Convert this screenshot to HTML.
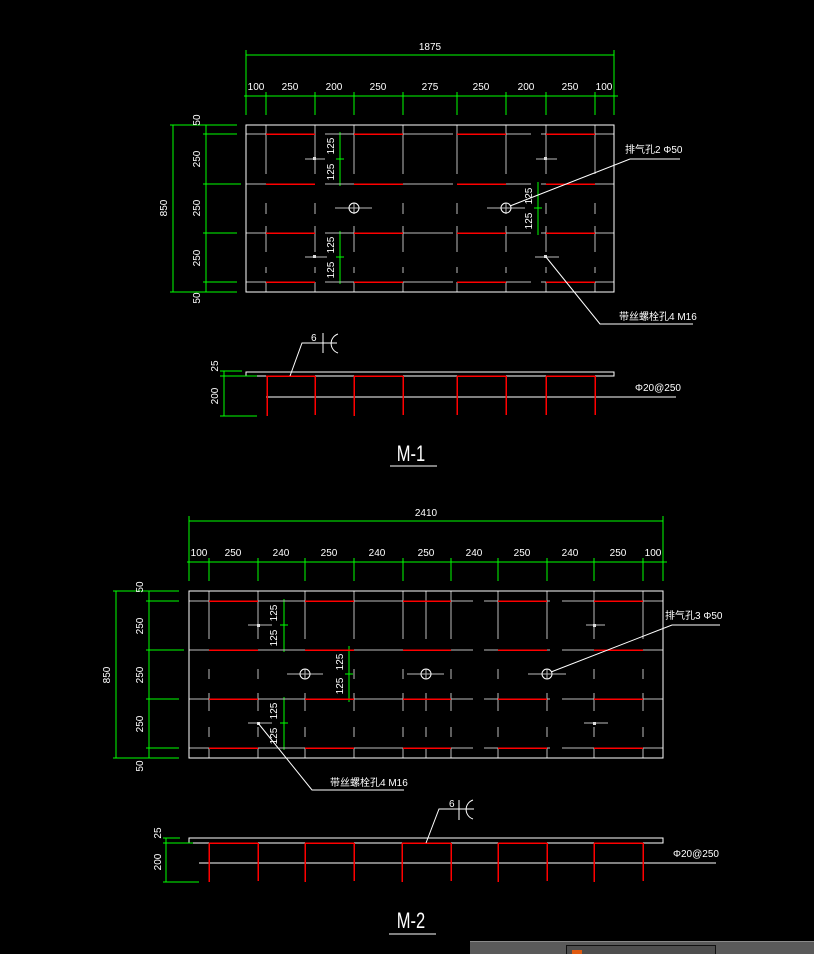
<!DOCTYPE html>
<html><head><meta charset="utf-8"><style>
html,body{margin:0;padding:0;background:#000;width:814px;height:954px;overflow:hidden}
svg{display:block}
text{font-family:"Liberation Sans Narrow","Liberation Sans","Noto Sans CJK SC",sans-serif;fill:#fff;font-size:10px}
.g{stroke:#00ff00;stroke-width:1;fill:none}
.w{stroke:#fff;stroke-width:1;fill:none}
.gr{stroke:#bdbdbd;stroke-width:1;fill:none}
.r{stroke:#ff0000;stroke-width:1.5;fill:none}
path,line,rect{shape-rendering:crispEdges}
.aa{shape-rendering:auto}
</style></head><body>
<svg width="814" height="954" viewBox="0 0 814 954" xmlns="http://www.w3.org/2000/svg">
<!-- ================= M-1 PLAN ================= -->
<g class="g">
<line x1="246" y1="55" x2="614" y2="55"/>
<line x1="246" y1="50" x2="246" y2="115"/><line x1="614" y1="50" x2="614" y2="115"/>
<line x1="244" y1="96" x2="618" y2="96"/>
<line x1="266" y1="92" x2="266" y2="115"/><line x1="315" y1="92" x2="315" y2="115"/><line x1="354" y1="92" x2="354" y2="115"/><line x1="403" y1="92" x2="403" y2="115"/><line x1="457" y1="92" x2="457" y2="115"/><line x1="506" y1="92" x2="506" y2="115"/><line x1="546" y1="92" x2="546" y2="115"/><line x1="595" y1="92" x2="595" y2="115"/>
<line x1="173" y1="125" x2="173" y2="292"/><line x1="206" y1="125" x2="206" y2="292"/>
<line x1="170" y1="125" x2="237" y2="125"/><line x1="203" y1="134" x2="237" y2="134"/><line x1="203" y1="184" x2="241" y2="184"/><line x1="203" y1="233" x2="237" y2="233"/><line x1="203" y1="282" x2="237" y2="282"/><line x1="170" y1="292" x2="237" y2="292"/>
<line x1="340" y1="132" x2="340" y2="186"/><line x1="340" y1="231" x2="340" y2="284"/><line x1="538" y1="182" x2="538" y2="235"/>
<line x1="336" y1="159" x2="344" y2="159"/><line x1="336" y1="257" x2="344" y2="257"/><line x1="534" y1="208" x2="542" y2="208"/>
</g>
<text x="430" y="50" text-anchor="middle">1875</text>
<text x="256" y="90" text-anchor="middle">100</text><text x="290" y="90" text-anchor="middle">250</text><text x="334" y="90" text-anchor="middle">200</text><text x="378" y="90" text-anchor="middle">250</text><text x="430" y="90" text-anchor="middle">275</text><text x="481" y="90" text-anchor="middle">250</text><text x="526" y="90" text-anchor="middle">200</text><text x="570" y="90" text-anchor="middle">250</text><text x="604" y="90" text-anchor="middle">100</text>
<text transform="translate(167,208) rotate(-90)" text-anchor="middle">850</text>
<text transform="translate(200,120) rotate(-90)" text-anchor="middle">50</text>
<text transform="translate(200,159) rotate(-90)" text-anchor="middle">250</text>
<text transform="translate(200,208) rotate(-90)" text-anchor="middle">250</text>
<text transform="translate(200,258) rotate(-90)" text-anchor="middle">250</text>
<text transform="translate(200,298) rotate(-90)" text-anchor="middle">50</text>
<text transform="translate(334,146) rotate(-90)" text-anchor="middle">125</text>
<text transform="translate(334,172) rotate(-90)" text-anchor="middle">125</text>
<text transform="translate(334,245) rotate(-90)" text-anchor="middle">125</text>
<text transform="translate(334,270) rotate(-90)" text-anchor="middle">125</text>
<text transform="translate(532,196) rotate(-90)" text-anchor="middle">125</text>
<text transform="translate(532,221) rotate(-90)" text-anchor="middle">125</text>
<g class="gr">
<path d="M246 134H314M325 134H453M459 134H531M541 134H614"/>
<path d="M246 184H314M325 184H453M459 184H531M541 184H614"/>
<path d="M246 233H314M325 233H453M459 233H531M541 233H614"/>
<path d="M246 282H314M325 282H453M459 282H531M541 282H614"/>
<g stroke-dasharray="49 29 11 12 26 15 6 9 12">
<line x1="266" y1="125" x2="266" y2="292"/><line x1="315" y1="125" x2="315" y2="292"/><line x1="354" y1="125" x2="354" y2="292"/><line x1="403" y1="125" x2="403" y2="292"/><line x1="457" y1="125" x2="457" y2="292"/><line x1="506" y1="125" x2="506" y2="292"/><line x1="546" y1="125" x2="546" y2="292"/><line x1="595" y1="125" x2="595" y2="292"/>
</g>
<path d="M305 159H325M536 159H557M305 257H327M535 257H559M335 208H372M487 208H525"/>
</g>
<g class="r">
<path d="M266 134H315M354 134H403M457 134H506M546 134H595"/>
<path d="M266 184H315M354 184H403M457 184H506M546 184H595"/>
<path d="M266 233H315M354 233H403M457 233H506M546 233H595"/>
<path d="M266 282H315M354 282H403M457 282H506M546 282H595"/>
</g>
<rect class="w" x="246" y="125" width="368" height="167"/>
<circle class="w aa" cx="354" cy="208" r="5"/><circle class="w aa" cx="506" cy="208" r="5"/>
<g fill="#ddd"><rect x="313" y="157" width="3" height="3"/><rect x="544" y="157" width="3" height="3"/><rect x="313" y="255" width="3" height="3"/><rect x="544" y="255" width="3" height="3"/></g>
<path class="w aa" d="M510 206L630 159H680M546 257L600 324H693"/>
<text x="625" y="153" font-size="9">排气孔2 Φ50</text>
<text x="619" y="320" font-size="9">带丝螺栓孔4 M16</text>
<!-- M-1 section -->
<rect class="w" x="246" y="372" width="368" height="4"/>
<path class="w" d="M266 397H676"/>
<path class="r" d="M266 376H315M354 376H403M457 376H506M546 376H595M267 376V416M315 376V415M354 376V416M403 376V415M457 376V415M506 376V415M546 376V415M595 376V415"/>
<g class="g"><line x1="224" y1="371" x2="224" y2="416"/><line x1="220" y1="371" x2="242" y2="371"/><line x1="220" y1="376" x2="257" y2="376"/><line x1="220" y1="416" x2="257" y2="416"/></g>
<text transform="translate(218,366) rotate(-90)" text-anchor="middle">25</text>
<text transform="translate(218,396) rotate(-90)" text-anchor="middle">200</text>
<text x="635" y="391" font-size="9">Φ20@250</text>
<path class="w aa" d="M290 376L302 343H337M323 333V353"/>
<path class="w aa" d="M338 334A10 10 0 0 0 338 353"/>
<text x="311" y="341" font-size="10">6</text>
<text transform="translate(411,461) scale(0.75,1)" text-anchor="middle" style="font-size:22px">M-1</text>
<line class="w" x1="390" y1="466" x2="437" y2="466"/>
<!-- ================= M-2 PLAN ================= -->
<g class="g">
<line x1="189" y1="521" x2="663" y2="521"/>
<line x1="189" y1="516" x2="189" y2="581"/><line x1="663" y1="516" x2="663" y2="581"/>
<line x1="187" y1="562" x2="667" y2="562"/>
<line x1="209" y1="558" x2="209" y2="581"/><line x1="258" y1="558" x2="258" y2="581"/><line x1="305" y1="558" x2="305" y2="581"/><line x1="354" y1="558" x2="354" y2="581"/><line x1="403" y1="558" x2="403" y2="581"/><line x1="451" y1="558" x2="451" y2="581"/><line x1="498" y1="558" x2="498" y2="581"/><line x1="547" y1="558" x2="547" y2="581"/><line x1="594" y1="558" x2="594" y2="581"/><line x1="643" y1="558" x2="643" y2="581"/>
<line x1="116" y1="591" x2="116" y2="758"/><line x1="149" y1="591" x2="149" y2="758"/>
<line x1="113" y1="591" x2="179" y2="591"/><line x1="146" y1="601" x2="179" y2="601"/><line x1="146" y1="650" x2="184" y2="650"/><line x1="146" y1="699" x2="179" y2="699"/><line x1="146" y1="748" x2="179" y2="748"/><line x1="113" y1="758" x2="179" y2="758"/>
<line x1="284" y1="599" x2="284" y2="652"/><line x1="284" y1="697" x2="284" y2="750"/><line x1="349" y1="646" x2="349" y2="702"/>
<line x1="280" y1="625" x2="288" y2="625"/><line x1="280" y1="723" x2="288" y2="723"/><line x1="345" y1="674" x2="353" y2="674"/>
</g>
<text x="426" y="516" text-anchor="middle">2410</text>
<text x="199" y="556" text-anchor="middle">100</text><text x="233" y="556" text-anchor="middle">250</text><text x="281" y="556" text-anchor="middle">240</text><text x="329" y="556" text-anchor="middle">250</text><text x="377" y="556" text-anchor="middle">240</text><text x="426" y="556" text-anchor="middle">250</text><text x="474" y="556" text-anchor="middle">240</text><text x="522" y="556" text-anchor="middle">250</text><text x="570" y="556" text-anchor="middle">240</text><text x="618" y="556" text-anchor="middle">250</text><text x="653" y="556" text-anchor="middle">100</text>
<text transform="translate(110,675) rotate(-90)" text-anchor="middle">850</text>
<text transform="translate(143,587) rotate(-90)" text-anchor="middle">50</text>
<text transform="translate(143,626) rotate(-90)" text-anchor="middle">250</text>
<text transform="translate(143,675) rotate(-90)" text-anchor="middle">250</text>
<text transform="translate(143,724) rotate(-90)" text-anchor="middle">250</text>
<text transform="translate(143,766) rotate(-90)" text-anchor="middle">50</text>
<text transform="translate(277,613) rotate(-90)" text-anchor="middle">125</text>
<text transform="translate(277,638) rotate(-90)" text-anchor="middle">125</text>
<text transform="translate(277,711) rotate(-90)" text-anchor="middle">125</text>
<text transform="translate(277,736) rotate(-90)" text-anchor="middle">125</text>
<text transform="translate(343,662) rotate(-90)" text-anchor="middle">125</text>
<text transform="translate(343,686) rotate(-90)" text-anchor="middle">125</text>
<g class="gr">
<path d="M189 601H663M189 650H663M189 699H663M189 748H663"/>
<g stroke-dasharray="48 30 10 14 18 16 10 11 11">
<line x1="209" y1="591" x2="209" y2="758"/><line x1="258" y1="591" x2="258" y2="758"/><line x1="305" y1="591" x2="305" y2="758"/><line x1="354" y1="591" x2="354" y2="758"/><line x1="403" y1="591" x2="403" y2="758"/><line x1="426" y1="591" x2="426" y2="758"/><line x1="451" y1="591" x2="451" y2="758"/><line x1="498" y1="591" x2="498" y2="758"/><line x1="547" y1="591" x2="547" y2="758"/><line x1="594" y1="591" x2="594" y2="758"/><line x1="643" y1="591" x2="643" y2="758"/>
</g>
<path d="M248 625H272M586 625H605M248 723H272M584 723H608M287 674H323M407 674H444M528 674H566"/>
</g>
<g stroke="#000" stroke-width="2"><path d="M473 601H484M473 650H484M473 699H484M473 748H484M550 601H562M550 650H562M550 699H562M550 748H562"/></g>
<g class="r">
<path d="M209 601H258M305 601H354M403 601H451M498 601H547M594 601H643"/>
<path d="M209 650H258M305 650H354M403 650H451M498 650H547M594 650H643"/>
<path d="M209 699H258M305 699H354M403 699H451M498 699H547M594 699H643"/>
<path d="M209 748H258M305 748H354M403 748H451M498 748H547M594 748H643"/>
</g>
<rect class="w" x="189" y="591" width="474" height="167"/>
<circle class="w aa" cx="305" cy="674" r="5"/><circle class="w aa" cx="426" cy="674" r="5"/><circle class="w aa" cx="547" cy="674" r="5"/>
<g fill="#ddd"><rect x="257" y="624" width="3" height="3"/><rect x="593" y="624" width="3" height="3"/><rect x="257" y="722" width="3" height="3"/><rect x="593" y="722" width="3" height="3"/></g>
<path class="w aa" d="M551 672L672 625H720M258 723L312 790H404"/>
<text x="665" y="619" font-size="9">排气孔3 Φ50</text>
<text x="330" y="786" font-size="9">带丝螺栓孔4 M16</text>
<!-- M-2 section -->
<rect class="w" x="189" y="838" width="474" height="5"/>
<path class="w" d="M199 863H716"/>
<path class="r" d="M209 843H258M305 843H354M402 843H451M498 843H547M594 843H643M209 843V882M258 843V881M305 843V882M354 843V881M402 843V882M451 843V881M498 843V882M547 843V881M594 843V882M643 843V881"/>
<g class="g"><line x1="166" y1="838" x2="166" y2="882"/><line x1="163" y1="838" x2="180" y2="838"/><line x1="163" y1="843" x2="193" y2="843"/><line x1="163" y1="882" x2="199" y2="882"/></g>
<text transform="translate(161,833) rotate(-90)" text-anchor="middle">25</text>
<text transform="translate(161,862) rotate(-90)" text-anchor="middle">200</text>
<text x="673" y="857" font-size="9">Φ20@250</text>
<path class="w aa" d="M426 843L439 809H474M459 800V820"/>
<path class="w aa" d="M473 800A10 10 0 0 0 473 819"/>
<text x="449" y="807" font-size="10">6</text>
<text transform="translate(411,928) scale(0.75,1)" text-anchor="middle" style="font-size:22px">M-2</text>
<line class="w" x1="389" y1="934" x2="436" y2="934"/>
<!-- toolbar -->
<rect x="470" y="941" width="344" height="13" fill="#5a5a5a"/>
<line x1="470" y1="941.5" x2="814" y2="941.5" stroke="#8a8a8a"/>
<rect x="566.5" y="945.5" width="149" height="9" fill="#4e4e4e" stroke="#111"/>
<rect x="572" y="950" width="10" height="4" fill="#e05a10"/>
</svg>
</body></html>
